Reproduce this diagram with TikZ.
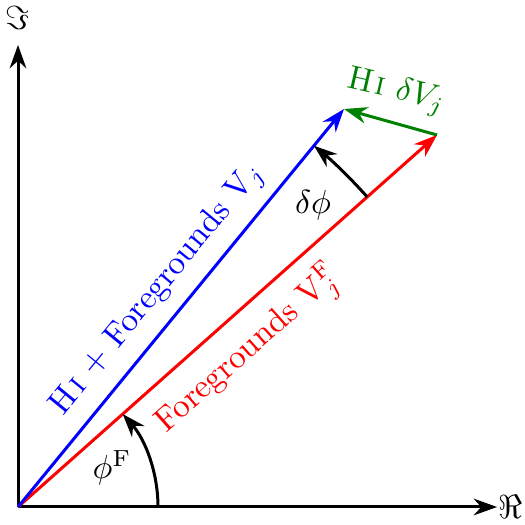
\documentclass[tikz,border=0pt]{standalone}
\usetikzlibrary{arrows.meta,calc}
\begin{document}
\begin{tikzpicture}[x=0.3pt,y=0.3pt,
  vec/.style={line width=0.9pt,-{Stealth[length=7pt,width=5pt]}},
  lbl/.style={inner sep=1pt}]
\useasboundingbox (0,0) rectangle (525,525);
\coordinate (O) at (18,18);
\coordinate (X) at (497,18);
\coordinate (Y) at (18,480);
\coordinate (R) at (437,390);
\coordinate (B) at (344,416);
\coordinate (P1) at ($(O)+(0:140)$);
\coordinate (D1) at ($(O)+(41.6:467)$);
% axes
\draw[vec] (O) -- (X);
\draw[vec] (O) -- (Y);
\node[lbl] (re) at (511,18) {$\Re$};
\node[lbl] (im) at (18,507) {$\Im$};
% vectors
\draw[vec,red] (O) -- (R);
\draw[vec,blue] (O) -- (B);
\draw[vec,green!50!black] (R) -- (B);
% angle arcs
\draw[vec] (P1) arc[start angle=0,end angle=41.6,radius=42pt];
\draw[vec] (D1) arc[start angle=41.6,end angle=50.68,radius=140.1pt];
% labels
\node[lbl,blue,rotate=50.68] (lb) at (158,235) {H\kern1pt\textsc{i} + Foregrounds $\mathrm{V}_j$};
\node[lbl,red,rotate=41.6] (lr) at (249,175) {Foregrounds $\mathrm{V}_j^{\mathrm{F}}$};
\node[lbl,green!50!black,rotate=-13] (lg) at (396,433) {H\kern1pt\textsc{i} $\delta V_j$};
\node[lbl] (ldp) at (313,320) {$\delta\phi$};
\node[lbl] (lpf) at (112,57) {$\phi^{\mathrm{F}}$};
\end{tikzpicture}
\end{document}
